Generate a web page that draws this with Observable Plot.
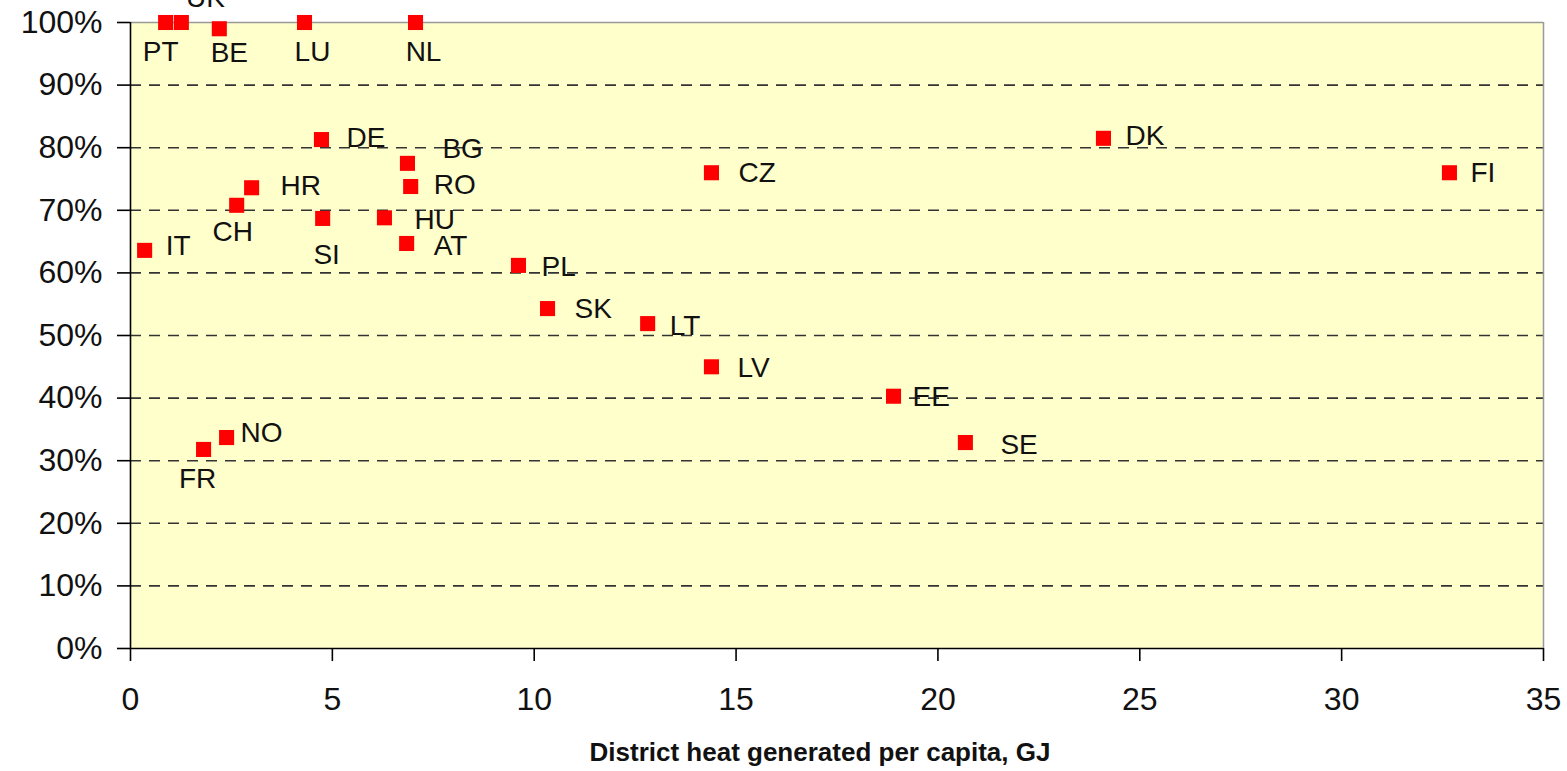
<!DOCTYPE html>
<html>
<head>
<meta charset="utf-8">
<script src="https://cdn.jsdelivr.net/npm/d3@7"></script>
<script src="https://cdn.jsdelivr.net/npm/@observablehq/plot@0.6"></script>
<style>
  html, body { margin: 0; padding: 0; background: #ffffff; }
  #chart svg { display: block; overflow: hidden; }
</style>
</head>
<body>
<div id="chart"></div>
<script>
// ---- Data ----
const countries = ["PT","UK","BE","LU","NL","DE","BG","HR","RO","CH","SI","HU","AT","IT","PL","SK","LT","LV","CZ","EE","SE","DK","FI","NO","FR"];
const heatPerCapitaGJ = [0.87,1.26,2.2,4.31,7.06,4.73,6.86,3.0,6.94,2.63,4.76,6.29,6.84,0.35,9.61,10.33,12.81,14.39,14.39,18.9,20.68,24.1,32.67,2.38,1.81];
const sharePercent = [100,100,99.0,100,100,81.3,77.5,73.6,73.8,70.8,68.7,68.8,64.7,63.6,61.2,54.3,51.9,45.0,76.0,40.3,32.9,81.5,76.0,33.7,31.8];
const xTicks = [0,5,10,15,20,25,30,35];
const yTicks = [0,10,20,30,40,50,60,70,80,90,100];
const gridLevels = [10,20,30,40,50,60,70,80,90];
const xTitle = "District heat generated per capita, GJ";

// ---- Label placement (layout only) ----
const labelPlacement = {
  PT:["middle",-5,30], UK:["middle",24,-24], BE:["middle",10,24], LU:["middle",8,30], NL:["middle",8,30],
  DE:["start",25,-2], BG:["start",35,-14], HR:["start",29,-2], RO:["start",23,-1], CH:["middle",-4,27],
  SI:["middle",4,37], HU:["start",30,2], AT:["start",27,3], IT:["start",21,-4], PL:["start",23,2],
  SK:["start",27,0], LT:["start",22,2], LV:["start",26,1], CZ:["start",27,0], EE:["start",19,1],
  SE:["start",35,2], DK:["start",22,-2], FI:["start",21,0], NO:["start",14,-5], FR:["middle",-6,30]
};

const rows = countries.map((c, i) => ({country: c, gj: heatPerCapitaGJ[i], share: sharePercent[i]}));

const labelMarks = rows.map(r => {
  const [anchor, dx, dy] = labelPlacement[r.country];
  return Plot.text([r], {x: "gj", y: "share", text: "country", textAnchor: anchor, dx, dy,
    fontSize: 28, fill: "#111", clip: false});
});

const chart = Plot.plot({
  width: 1567,
  height: 771,
  marginLeft: 130,
  marginRight: 24,
  marginTop: 22,
  marginBottom: 123,
  style: {fontFamily: "'Liberation Sans', Arial, sans-serif", background: "#ffffff", color: "#111"},
  x: {domain: [0, 35], ticks: xTicks},
  y: {domain: [0, 100], ticks: yTicks},
  marks: [
    Plot.frame({fill: "#ffffcc", stroke: "none"}),
    Plot.ruleY(gridLevels, {stroke: "#333", strokeWidth: 1.6, strokeDasharray: "11,8"}),
    Plot.ruleX([35], {stroke: "#999", strokeWidth: 1.5}),
    Plot.ruleY([100], {stroke: "#999", strokeWidth: 1.5}),
    Plot.ruleX([0], {stroke: "#000", strokeWidth: 1.6}),
    Plot.ruleY([0], {stroke: "#000", strokeWidth: 1.6}),
    Plot.axisY({ticks: yTicks, tickFormat: d => d + "%", tickSize: 13, tickPadding: 15, fontSize: 32, label: null, stroke: "#000", strokeWidth: 1.6}),
    Plot.axisX({ticks: xTicks, tickFormat: d => String(d), tickSize: 13, tickPadding: 26, fontSize: 32, label: null, stroke: "#000", strokeWidth: 1.6}),
    Plot.dot(rows, {x: "gj", y: "share", symbol: "square", r: 8.5, fill: "#ff0000", stroke: "none"}),
    ...labelMarks,
    Plot.text([xTitle], {frameAnchor: "bottom", text: d => d, dx: -17, dy: 112, fontSize: 26, fontWeight: "bold", fill: "#111"})
  ]
});
document.getElementById("chart").appendChild(chart);
</script>
</body>
</html>
